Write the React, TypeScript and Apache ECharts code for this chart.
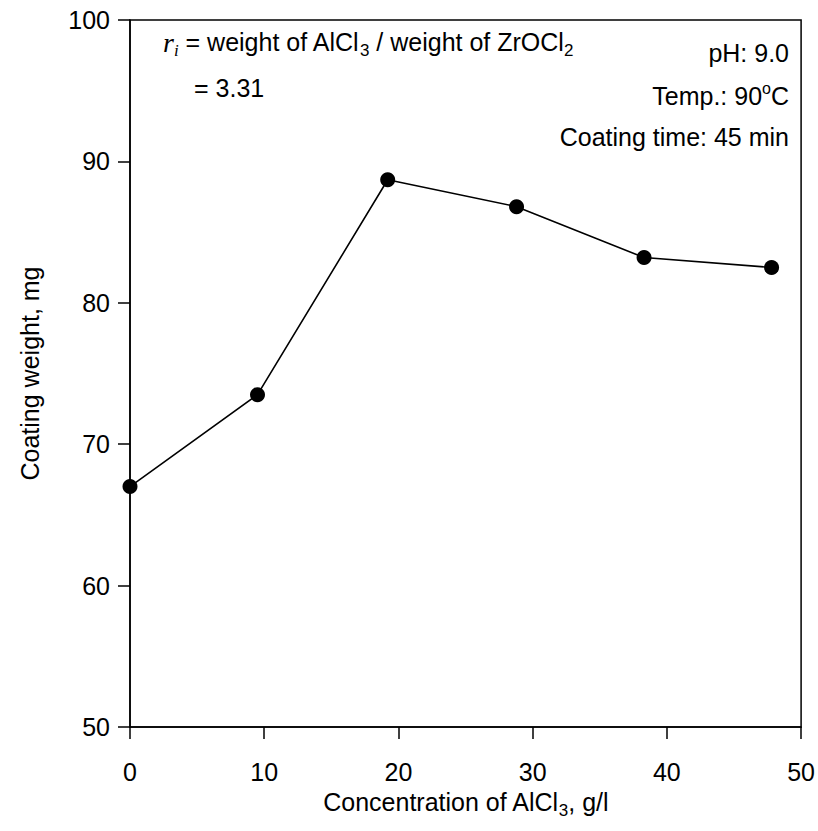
import React, { useEffect, useRef } from "react";
import * as echarts from "echarts";

const concentration = [0, 9.5, 19.2, 28.8, 38.3, 47.8];
const coatingWeight = [67.0, 73.5, 88.7, 86.8, 83.2, 82.5];
const xTicks = { min: 0, max: 50, interval: 10 };
const yTicks = { min: 50, max: 100, interval: 10 };

const FONT = "'Liberation Sans', Arial, sans-serif";
const FS = 25;

export default function App() {
  const ref = useRef<HTMLDivElement>(null);
  useEffect(() => {
    if (!ref.current) return;
    const chart = echarts.init(ref.current, null, { renderer: "svg" });
    const sub = { fontSize: 17, fontFamily: FONT, color: "#000", lineHeight: 17, verticalAlign: "bottom" };
    const base = { fontSize: FS, fontFamily: FONT, color: "#000", lineHeight: 34 };
    chart.setOption({
      animation: false,
      backgroundColor: "#fff",
      grid: {
        left: 130,
        right: 7,
        top: 20,
        bottom: 104,
        show: true,
        borderColor: "#000",
        borderWidth: 1.5,
        backgroundColor: "transparent",
      },
      xAxis: {
        type: "value",
        min: xTicks.min,
        max: xTicks.max,
        interval: xTicks.interval,
        name: "{a|Concentration of AlCl}{s|3}{a|, g/l}",
        nameLocation: "middle",
        nameGap: 58,
        nameTextStyle: { rich: { a: base, s: sub } },
        axisLine: { show: true, lineStyle: { color: "#000", width: 1.5 } },
        axisTick: { show: true, inside: false, length: 12, lineStyle: { color: "#000", width: 1.5 } },
        axisLabel: { color: "#000", fontSize: FS, fontFamily: FONT, margin: 32 },
        splitLine: { show: false },
      },
      yAxis: {
        type: "value",
        min: yTicks.min,
        max: yTicks.max,
        interval: yTicks.interval,
        name: "Coating weight, mg",
        nameLocation: "middle",
        nameGap: 88,
        nameTextStyle: { color: "#000", fontSize: FS, fontFamily: FONT },
        axisLine: { show: true, lineStyle: { color: "#000", width: 1.5 } },
        axisTick: { show: true, inside: false, length: 12, lineStyle: { color: "#000", width: 1.5 } },
        axisLabel: { color: "#000", fontSize: FS, fontFamily: FONT, margin: 20 },
        splitLine: { show: false },
      },
      series: [
        {
          type: "line",
          data: concentration.map((x, i) => [x, coatingWeight[i]]),
          symbol: "circle",
          symbolSize: 15,
          itemStyle: { color: "#000" },
          lineStyle: { color: "#000", width: 1.6 },
          z: 3,
        },
      ],
      graphic: [
        {
          type: "text",
          left: 163,
          top: 28,
          style: {
            text: "{r|r}{ri|i}{a| = weight of AlCl}{s|3}{a| / weight of ZrOCl}{s|2}",
            rich: {
              r: { fontSize: 28, fontFamily: "'Liberation Serif', serif", fontStyle: "italic", color: "#000", lineHeight: 34 },
              ri: { fontSize: 17, fontFamily: "'Liberation Serif', serif", fontStyle: "italic", color: "#000", lineHeight: 17, verticalAlign: "bottom" },
              a: base,
              s: sub,
            },
          },
        },
        {
          type: "text",
          left: 194,
          top: 75,
          style: { text: "= 3.31", fontSize: FS, fontFamily: FONT, fill: "#000" },
        },
        {
          type: "text",
          right: 29,
          top: 40,
          style: { text: "pH: 9.0", fontSize: FS, fontFamily: FONT, fill: "#000" },
        },
        {
          type: "text",
          right: 29,
          top: 80,
          style: {
            text: "{a|Temp.: 90}{o|o}{a|C}",
            rich: {
              a: { fontSize: FS, fontFamily: FONT, color: "#000", lineHeight: 32 },
              o: { fontSize: 16, fontFamily: FONT, color: "#000", lineHeight: 16, verticalAlign: "top" },
            },
          },
        },
        {
          type: "text",
          right: 29,
          top: 124,
          style: { text: "Coating time: 45 min", fontSize: FS, fontFamily: FONT, fill: "#000" },
        },
      ],
    });
    return () => chart.dispose();
  }, []);
  return (
    <div
      ref={ref}
      style={{ position: "fixed", left: 0, top: 0, width: 818, height: 831, background: "#fff" }}
    />
  );
}
